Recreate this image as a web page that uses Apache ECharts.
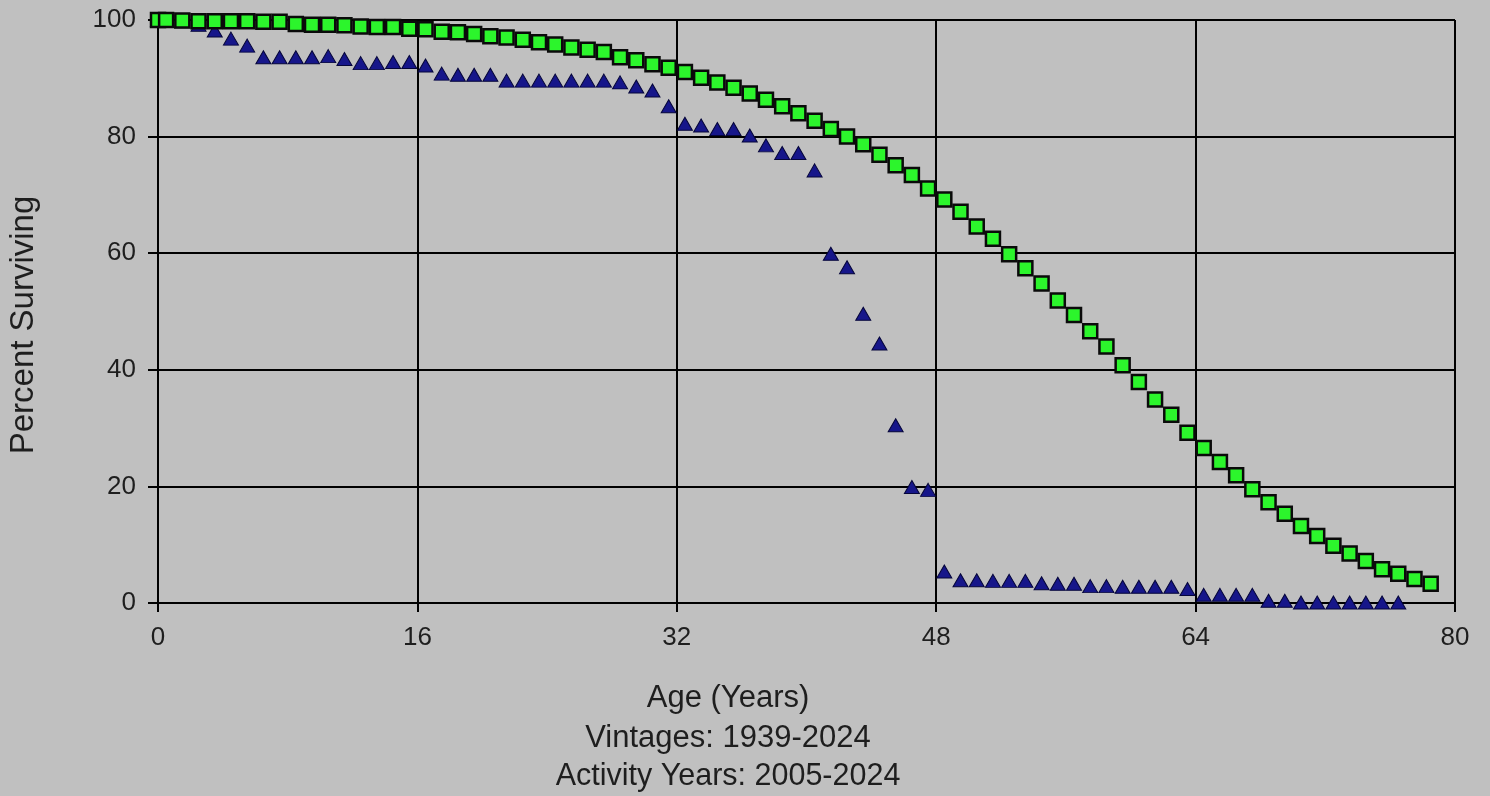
<!DOCTYPE html>
<html>
<head>
<meta charset="utf-8">
<script src="https://cdn.jsdelivr.net/npm/echarts@6/dist/echarts.min.js"></script>
<style>
html,body{margin:0;padding:0;background:#c0c0c0;}
#chart{width:1490px;height:796px;}
</style>
</head>
<body>
<div id="chart"></div>
<script>
// Ages (years) for the observed series (green squares)
const agesObserved = [0,0.5,1.5,2.5,3.5,4.5,5.5,6.5,7.5,8.5,9.5,10.5,11.5,12.5,13.5,14.5,15.5,16.5,17.5,18.5,19.5,
  20.5,21.5,22.5,23.5,24.5,25.5,26.5,27.5,28.5,29.5,30.5,31.5,32.5,33.5,34.5,35.5,36.5,37.5,38.5,39.5,
  40.5,41.5,42.5,43.5,44.5,45.5,46.5,47.5,48.5,49.5,50.5,51.5,52.5,53.5,54.5,55.5,56.5,57.5,58.5,59.5,
  60.5,61.5,62.5,63.5,64.5,65.5,66.5,67.5,68.5,69.5,70.5,71.5,72.5,73.5,74.5,75.5,76.5,77.5,78.5];
const percentSquares = [100,100,99.9,99.8,99.8,99.8,99.8,99.7,99.7,99.3,99.2,99.2,99.1,98.9,98.8,98.8,98.5,98.4,98.0,97.9,97.6,
  97.2,97.0,96.6,96.2,95.8,95.3,94.9,94.5,93.6,93.1,92.4,91.8,91.1,90.1,89.3,88.4,87.4,86.3,85.2,84.0,
  82.7,81.3,80.0,78.7,76.9,75.1,73.4,71.1,69.2,67.1,64.6,62.5,59.8,57.4,54.8,51.9,49.4,46.6,44.0,40.8,
  37.9,34.9,32.3,29.2,26.6,24.2,21.9,19.5,17.3,15.3,13.2,11.5,9.8,8.5,7.2,5.8,5.0,4.1,3.3];

// Ages (years) for the triangle series
const agesTriangles = [0,0.5,1.5,2.5,3.5,4.5,5.5,6.5,7.5,8.5,9.5,10.5,11.5,12.5,13.5,14.5,15.5,16.5,17.5,18.5,19.5,
  20.5,21.5,22.5,23.5,24.5,25.5,26.5,27.5,28.5,29.5,30.5,31.5,32.5,33.5,34.5,35.5,36.5,37.5,38.5,39.5,
  40.5,41.5,42.5,43.5,44.5,45.5,46.5,47.5,48.5,49.5,50.5,51.5,52.5,53.5,54.5,55.5,56.5,57.5,58.5,59.5,
  60.5,61.5,62.5,63.5,64.5,65.5,66.5,67.5,68.5,69.5,70.5,71.5,72.5,73.5,74.5,75.5,76.5];
const percentTriangles = [100,100,99.8,99.2,98.2,96.8,95.6,93.6,93.6,93.6,93.6,93.8,93.3,92.6,92.6,92.8,92.8,92.2,90.8,90.6,90.6,
  90.6,89.6,89.6,89.6,89.6,89.6,89.6,89.6,89.3,88.6,87.9,85.2,82.2,81.9,81.3,81.3,80.2,78.5,77.2,77.2,
  74.2,59.9,57.6,49.6,44.5,30.5,19.9,19.4,5.4,3.9,3.9,3.8,3.8,3.8,3.4,3.3,3.3,2.9,2.9,2.8,
  2.8,2.8,2.8,2.4,1.4,1.4,1.4,1.4,0.4,0.4,0.1,0.1,0.1,0.1,0.1,0.1,0.1];

const xTicks = [0,16,32,48,64,80];
const yTicks = [0,20,40,60,80,100];
const xAxisTitle = 'Age (Years)';
const subtitle1 = 'Vintages: 1939-2024';
const subtitle2 = 'Activity Years: 2005-2024';
const yAxisTitle = 'Percent Surviving';

const FONT = '"Liberation Sans", Arial, sans-serif';
const TXT = '#1e1e1e';

const chart = echarts.init(document.getElementById('chart'), null, {renderer:'canvas'});
const sq = agesObserved.map((a,i)=>[a, percentSquares[i]]);
const tr = agesTriangles.map((a,i)=>[a, percentTriangles[i]]);

chart.setOption({
  backgroundColor: '#c0c0c0',
  animation: false,
  grid: {left:158, right:35, top:20, bottom:193, containLabel:false},
  xAxis: {
    type:'value', min:xTicks[0], max:xTicks[xTicks.length-1], interval:16,
    axisLine:{show:true, lineStyle:{color:'#000', width:2}},
    axisTick:{show:true, length:9, lineStyle:{color:'#000', width:2}},
    axisLabel:{color:TXT, fontSize:26, fontFamily:FONT, margin:22},
    splitLine:{show:true, lineStyle:{color:'#000', width:2}}
  },
  yAxis: {
    type:'value', min:yTicks[0], max:yTicks[yTicks.length-1], interval:20,
    axisLine:{show:true, lineStyle:{color:'#000', width:2}},
    axisTick:{show:true, length:10, lineStyle:{color:'#000', width:2}},
    axisLabel:{color:TXT, fontSize:26, fontFamily:FONT, margin:22},
    splitLine:{show:true, lineStyle:{color:'#000', width:2}}
  },
  graphic: [
    {type:'text', x:728, y:698, style:{text:xAxisTitle, fill:TXT, font:'31px '+FONT, align:'center', verticalAlign:'middle'}},
    {type:'text', x:728, y:738, style:{text:subtitle1, fill:TXT, font:'31px '+FONT, align:'center', verticalAlign:'middle'}},
    {type:'text', x:728, y:777, style:{text:subtitle2, fill:TXT, font:'30.5px '+FONT, align:'center', verticalAlign:'middle'}},
    {type:'text', x:24, y:325, rotation:Math.PI/2, style:{text:yAxisTitle, fill:TXT, font:'33px '+FONT, align:'center', verticalAlign:'middle'}}
  ],
  series: [
    {
      type:'scatter', name:'Triangles', data:tr, clip:false,
      symbol:'triangle', symbolSize:[15,13],
      itemStyle:{color:'#16168a', borderColor:'#05053a', borderWidth:1, opacity:1}
    },
    {
      type:'scatter', name:'Squares', data:sq, clip:false,
      symbol:'rect', symbolSize:14,
      itemStyle:{color:'#2cf52c', borderColor:'#0a0a0a', borderWidth:2.5, opacity:1}
    }
  ]
});
</script>
</body>
</html>
